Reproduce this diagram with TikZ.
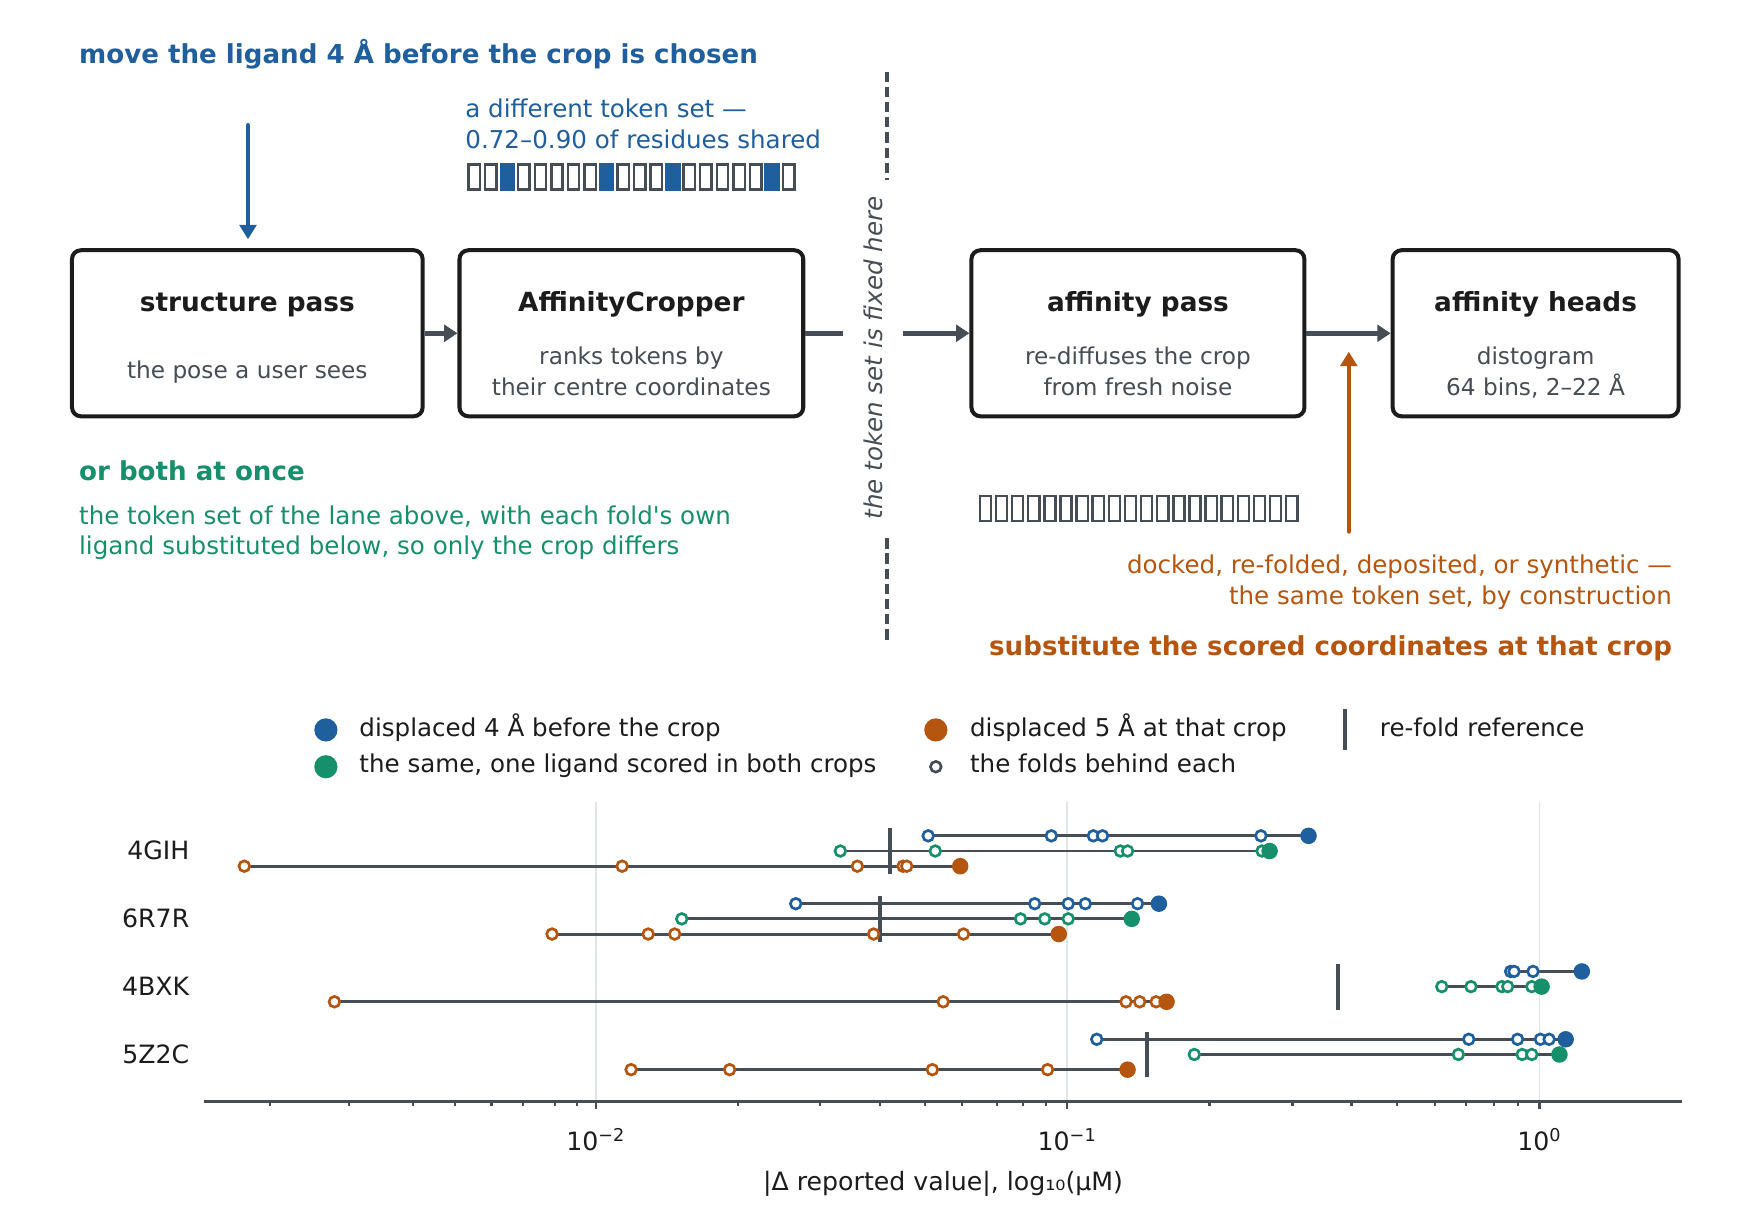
\documentclass[tikz,border=0pt]{standalone}
\usepackage{fontspec}
\setmainfont{DejaVu Sans}
\usetikzlibrary{arrows.meta}

\definecolor{cblue}{HTML}{1F5F9E}
\definecolor{cgreen}{HTML}{16906A}
\definecolor{corange}{HTML}{B5550F}
\definecolor{ink}{HTML}{1C1C1C}
\definecolor{slate}{HTML}{474D54}
\definecolor{gridgray}{HTML}{E1E4E8}

\tikzset{
  box/.style={draw=ink,line width=1.8pt,rounded corners=4pt,minimum height=74.4pt,fill=white},
  boxtitle/.style={anchor=base,inner sep=0pt,text=ink,font=\fontsize{11.8}{14}\selectfont\bfseries},
  boxsub/.style={anchor=base,inner sep=0pt,text=slate,font=\fontsize{10.4}{12}\selectfont},
  lead/.style={anchor=base west,inner sep=0pt,font=\fontsize{11.7}{14}\selectfont\bfseries},
  note/.style={anchor=base west,inner sep=0pt,font=\fontsize{11}{13}\selectfont},
  flow/.style={draw=slate,line width=2.2pt,-{Triangle[length=6pt,width=7.5pt]}},
  push/.style={draw=#1,line width=1.8pt,line cap=round,-{Triangle[length=6.5pt,width=7.5pt]}},
  fence/.style={draw=slate,line width=1.5pt,dash pattern=on 4.6pt off 2.2pt},
  cell/.style={draw=slate,line width=1.1pt,fill=white},
  fixlabel/.style={rotate=90,text=slate,font=\fontsize{11}{13}\selectfont\itshape,
    text height=8.4pt,text depth=0pt,inner xsep=0pt,inner ysep=9pt},
  legtext/.style={anchor=base west,inner sep=0pt,text=ink,font=\fontsize{11}{13}\selectfont},
  lanelab/.style={anchor=base east,inner sep=0pt,text=ink,font=\fontsize{11.3}{13}\selectfont},
  ticklab/.style={anchor=base,inner sep=0pt,text=ink,font=\fontsize{11.3}{13}\selectfont},
  axisline/.style={draw=slate,line width=1pt},
  gridline/.style={draw=gridgray,line width=0.8pt},
  laneline/.style={draw=slate,line width=1.3pt},
  refbar/.style={draw=slate,line width=1.8pt},
  fold/.style={draw=#1,fill=white,line width=1.2pt}
}

% one lane: y, colour, lowest fold, other folds, displaced value
\newcommand{\lane}[5]{%
  \draw[laneline] ({lx(#3)},#1) -- ({lx(#5)},#1);
  \foreach \v in {#3,#4}
    \draw[fold=#2] ({lx(\v)},#1) circle[radius=2.4pt];
  \fill[#2] ({lx(#5)},#1) circle[radius=3.7pt];
}

\begin{document}
\begin{tikzpicture}[x=0.5pt,y=-0.5pt,declare function={lx(\v)=956+423.4*(log10(\v)+1);}]
  \useasboundingbox (0,0) rectangle (1568,1098);
  \fill[white] (0,0) rectangle (1568,1098);

  \draw (221.6,298.6) node[box,minimum width=157.1pt] (struct) {};
  \draw (565.7,298.6) node[box,minimum width=154pt] (crop) {};
  \draw (1019.6,298.6) node[box,minimum width=149.2pt] (affp) {};
  \draw (1375.9,298.6) node[box,minimum width=128.1pt] (heads) {};

  \draw (221.6,278.7) node[boxtitle] (structT) {structure pass}
  ++(0,60.3) node[boxsub] (structS) {the pose a user sees};
  \draw (565.7,278.7) node[boxtitle] (cropT) {AffinityCropper}
  ++(0,48.3) node[boxsub] (cropS) {ranks tokens by}
  ++(0,27) node[boxsub] (cropS2) {their centre coordinates};
  \draw (1019.6,278.7) node[boxtitle] (affpT) {affinity pass}
  ++(0,48.3) node[boxsub] (affpS) {re-diffuses the crop}
  ++(0,27) node[boxsub] (affpS2) {from fresh noise};
  \draw (1375.9,278.7) node[boxtitle] (headsT) {affinity heads}
  ++(0,48.3) node[boxsub] (headsS) {distogram}
  ++(0,27) node[boxsub] (headsS2) {64 bins, 2–22 Å};

  \draw (782.4,320.8) node[fixlabel] (fixed) {the token set is fixed here};
  \draw[fence] (794.6,64.2) -- (794.6,161.3);
  \draw[fence] (794.6,482.3) -- (794.6,573.4);

  \draw[flow] (struct) -- (crop);
  \draw[slate,line width=2.2pt] (crop) -- (crop -| fixed.north);
  \draw[flow] (affp -| fixed.south) -- (affp);
  \draw[flow] (affp) -- (heads);

  % blue lane
  \draw (70.5,56.7) node[lead,text=cblue] (moveT) {move the ligand 4 Å before the crop is chosen};
  \coordinate (movetop) at (222.2,112);
  \draw[push=cblue,shorten >=4pt] (movetop) -- (movetop |- struct.north);
  \draw (416.6,105.1) node[note,text=cblue] (diffA) {a different token set —}
  ++(0,27.8) node[note,text=cblue] (diffB) {0.72–0.90 of residues shared};
  \foreach \i in {0,...,19}
    \draw[cell] ({417.5+14.83*\i+2.3},147.4) rectangle ({417.5+14.83*\i+12.5},169.8);
  \foreach \i in {2,8,12,18}
    \fill[cblue] ({417.5+14.83*\i+0.5},146.3) rectangle ({417.5+14.83*\i+14.3},170.9);

  % green lane
  \draw (70.5,430.7) node[lead,text=cgreen] (bothT) {or both at once}
  ++(0,38.8) node[note,text=cgreen] (bothA) {the token set of the lane above, with each fold\textquotesingle s own}
  ++(0,26.9) node[note,text=cgreen] (bothB) {ligand substituted below, so only the crop differs};

  % orange lane
  \foreach \i in {0,...,19}
    \draw[cell] ({875.7+14.45*\i+2.2},444.6) rectangle ({875.7+14.45*\i+12.2},466.9);
  \coordinate (subfoot) at (1208.5,476.4);
  \coordinate (subhead) at (1208.5,315.1);
  \draw[push=corange] (subfoot) -- (subhead);
  \draw (1498.5,513.7) node[note,anchor=base east,text=corange] (subA) {docked, re-folded, deposited, or synthetic —}
  ++(0,27.5) node[note,anchor=base east,text=corange] (subB) {the same token set, by construction}
  ++(0,45.7) node[lead,anchor=base east,text=corange] (subT) {substitute the scored coordinates at that crop};

  % legend
  \fill[cblue] (292,654) circle[radius=5.2pt];
  \fill[cgreen] (292,687) circle[radius=5.2pt];
  \fill[corange] (838.5,654) circle[radius=5.2pt];
  \draw[fold=slate] (838.5,687) circle[radius=2.4pt];
  \draw[refbar] (1204.8,635.5) -- (1204.8,672);
  \draw (321.7,660) node[legtext] (legA) {displaced 4 Å before the crop};
  \draw (321.7,692.3) node[legtext] (legB) {the same, one ligand scored in both crops};
  \draw (868.8,660) node[legtext] (legC) {displaced 5 Å at that crop};
  \draw (868.8,692.3) node[legtext] (legD) {the folds behind each};
  \draw (1236,660) node[legtext] (legE) {re-fold reference};

  % axis
  \foreach \g in {0.01,0.1,1}
    \draw[gridline] ({lx(\g)},719) -- ({lx(\g)},987);
  \draw[axisline] (183,987) -- (1507,987);
  \foreach \d in {0.001,0.01,0.1}
    \foreach \m in {2,...,9}
      \draw[axisline] ({lx(\m*\d)},987) -- ++(0,4);
  \foreach \g/\e/\n in {0.01/−2/a,0.1/−1/b,1/0/c} {
    \draw[axisline] ({lx(\g)},987) -- ++(0,7);
    \draw ({lx(\g)},1031) node[ticklab] (tick\n) {10\textsuperscript{\e}};
  }
  \draw (845,1067) node[ticklab] (xlab) {|Δ reported value|, log₁₀(μM)};

  \draw (170,770.5) node[lanelab] (gih) {4GIH}
  ++(0,60.8) node[lanelab] (rsr) {6R7R}
  ++(0,60.7) node[lanelab] (bxk) {4BXK}
  ++(0,60.8) node[lanelab] (zzc) {5Z2C};

  % re-fold references
  \foreach \r/\yc in {0.04198/762.5,0.0400/823.3,0.3752/884,0.1458/944.8}
    \draw[refbar] ({lx(\r)},{\yc-20.5}) -- ({lx(\r)},{\yc+20.5});

  \lane{748.9}{cblue}{0.0508}{0.0924,0.1137,0.1189,0.2573}{0.3245}
  \lane{762.5}{cgreen}{0.0324}{0.0526,0.1264,0.1315,0.2587}{0.2684}
  \lane{776.1}{corange}{0.00182}{0.01141,0.03548,0.04483,0.04567}{0.05943}

  \lane{809.7}{cblue}{0.02665}{0.0850,0.1005,0.1093,0.1387}{0.1551}
  \lane{823.3}{cgreen}{0.0153}{0.0791,0.0894,0.1005}{0.1345}
  \lane{836.9}{corange}{0.00794}{0.01299,0.01478,0.03862,0.0604}{0.0959}

  \lane{870.4}{cblue}{0.8687}{0.8834,0.9689}{1.229}
  \lane{884}{cgreen}{0.6211}{0.7161,0.8328,0.8564,0.9632}{1.0104}
  \lane{897.6}{corange}{0.002812}{0.05468,0.1304,0.1403,0.1529}{0.1613}

  \lane{931.2}{cblue}{0.1156}{0.7084,0.8985,1.0044,1.048}{1.136}
  \lane{944.8}{cgreen}{0.1855}{0.6734,0.9188,0.9632}{1.102}
  \lane{958.4}{corange}{0.01193}{0.01914,0.05185,0.0907}{0.1315}

\end{tikzpicture}
\end{document}
